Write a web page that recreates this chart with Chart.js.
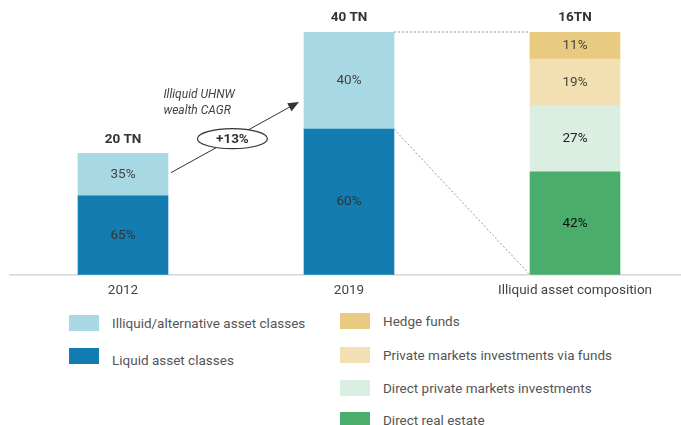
<!doctype html>
<html lang="en">
<head>
    <meta charset="utf-8">
    <title>Illiquid UHNW wealth</title>
    <style>
        body {
            margin: 0;
            background: #fff;
            overflow: hidden;
            font-family: Roboto, sans-serif;
        }
        #container {
            position: relative;
            width: 688px;
            height: 301px;
        }
        #legend {
            position: absolute;
            left: 0;
            top: 0;
        }
        .box {
            position: absolute;
            width: 30px;
            height: 16px;
        }
        .txt {
            position: absolute;
            white-space: nowrap;
            font-size: 13.5px;
            line-height: 16px;
            color: #555;
        }
    </style>
</head>
<body>
    <div id="container">
        <canvas id="myChart"></canvas>
    </div>
    <div id="legend"></div>

    <script src="https://cdn.jsdelivr.net/npm/chart.js@4.4.0/dist/chart.umd.min.js"></script>
    <script>
        // data
        const categories = ['2012', '2019', 'Illiquid asset composition'];
        const totalsTN = [20, 40];
        const liquidShare = [65, 60];
        const illiquidShare = [35, 40];
        const compositionLabels = ['Direct real estate', 'Direct private markets investments', 'Private markets investments via funds', 'Hedge funds'];
        const compositionShare = [42, 27, 19, 11];
        const totalLabels = ['20 TN', '40 TN', '16TN'];
        const cagrLabel = '+13%';
        const cagrNote = ['Illiquid UHNW', 'wealth CAGR'];

        const compositionColors = ['#4aad6c', '#daeee2', '#f3e0b2', '#e8ca80'];
        const compositionText = ['#111', '#222', '#444', '#444'];

        function inTN(shares) {
            return shares.map((s, i) => totalsTN[i] * s / 100).concat([null]);
        }

        let datasets = [
            { label: 'Liquid asset classes', data: inTN(liquidShare), pct: liquidShare, backgroundColor: '#137db2', textColor: '#333', yAxisID: 'y', group: 0 },
            { label: 'Illiquid/alternative asset classes', data: inTN(illiquidShare), pct: illiquidShare, backgroundColor: '#a8d8e3', textColor: '#444', yAxisID: 'y', group: 0 }
        ];
        compositionLabels.forEach((label, i) => {
            datasets.push({
                label: label,
                data: [null, null, compositionShare[i]],
                pct: [null, null, compositionShare[i]],
                backgroundColor: compositionColors[i],
                textColor: compositionText[i],
                yAxisID: 'y2',
                group: 1
            });
        });

        // percentage inside each segment, total on top of each bar
        const barLabels = {
            id: 'barLabels',
            afterDatasetsDraw(chart) {
                const ctx = chart.ctx;
                ctx.save();
                ctx.textAlign = 'center';
                ctx.textBaseline = 'middle';
                ctx.font = '13.5px Roboto';
                let tops = [];
                chart.data.datasets.forEach((ds, di) => {
                    chart.getDatasetMeta(di).data.forEach((el, i) => {
                        if (ds.data[i] == null) return;
                        ctx.fillStyle = ds.textColor;
                        ctx.fillText(ds.pct[i] + '%', el.x, (el.y + el.base) / 2);
                        if (tops[i] === undefined || el.y < tops[i].y) tops[i] = el;
                    });
                });
                ctx.font = 'bold 13.5px Roboto';
                ctx.fillStyle = '#333';
                tops.forEach((el, i) => {
                    ctx.fillText(totalLabels[i], el.x, el.y - 14);
                });
                ctx.restore();
            }
        };

        // CAGR arrow and dashed connectors
        const annotations = {
            id: 'annotations',
            afterDatasetsDraw(chart) {
                const ctx = chart.ctx;
                const ill = chart.getDatasetMeta(1).data;
                const a = ill[0], b = ill[1];
                const hedge = chart.getDatasetMeta(chart.data.datasets.length - 1).data[2];
                const estate = chart.getDatasetMeta(2).data[2];
                ctx.save();

                // dashed lines from 2019 illiquid part to composition bar
                ctx.strokeStyle = '#999';
                ctx.lineWidth = 1;
                ctx.setLineDash([2, 2]);
                ctx.beginPath();
                ctx.moveTo(b.x + b.width / 2, b.y);
                ctx.lineTo(hedge.x - hedge.width / 2, hedge.y);
                ctx.moveTo(b.x + b.width / 2, b.base);
                ctx.lineTo(estate.x - estate.width / 2, estate.base);
                ctx.stroke();
                ctx.setLineDash([]);

                // arrow
                const sx = a.x + a.width / 2 + 3, sy = (a.y + a.base) / 2 - 2;
                const ex = b.x - b.width / 2 - 5, ey = b.y + (b.base - b.y) * 0.72;
                const ang = Math.atan2(ey - sy, ex - sx);
                ctx.strokeStyle = '#333';
                ctx.fillStyle = '#333';
                ctx.beginPath();
                ctx.moveTo(sx, sy);
                ctx.lineTo(ex - 9 * Math.cos(ang), ey - 9 * Math.sin(ang));
                ctx.stroke();
                ctx.beginPath();
                ctx.moveTo(ex, ey);
                ctx.lineTo(ex - 11 * Math.cos(ang) + 4.5 * Math.sin(ang), ey - 11 * Math.sin(ang) - 4.5 * Math.cos(ang));
                ctx.lineTo(ex - 11 * Math.cos(ang) - 4.5 * Math.sin(ang), ey - 11 * Math.sin(ang) + 4.5 * Math.cos(ang));
                ctx.closePath();
                ctx.fill();

                // ellipse with CAGR
                const cx = sx + (ex - sx) * 0.48, cy = sy + (ey - sy) * 0.48;
                ctx.fillStyle = '#fff';
                ctx.lineWidth = 1.2;
                ctx.beginPath();
                ctx.ellipse(cx, cy, 35, 10, 0, 0, Math.PI * 2);
                ctx.fill();
                ctx.stroke();
                ctx.fillStyle = '#333';
                ctx.textAlign = 'center';
                ctx.textBaseline = 'middle';
                ctx.font = 'bold 13.5px Roboto';
                ctx.fillText(cagrLabel, cx, cy + 0.5);

                ctx.font = 'italic 12px Roboto';
                ctx.fillStyle = '#444';
                ctx.textAlign = 'left';
                cagrNote.forEach((line, i) => {
                    ctx.fillText(line, cx - 69, cy - 44 + i * 16);
                });
                ctx.restore();
            }
        };

        let ctx = document.getElementById('myChart').getContext('2d');
        let myChart = new Chart(ctx, {
            type: 'bar',
            data: { labels: categories, datasets: datasets },
            options: {
                responsive: true,
                maintainAspectRatio: false,
                animation: false,
                layout: { padding: { left: 10, top: 32, right: 0, bottom: 2 } },
                plugins: {
                    legend: { display: false },
                    tooltip: { enabled: false }
                },
                datasets: { bar: { barThickness: 90 } },
                scales: {
                    x: {
                        stacked: true,
                        grid: { display: false },
                        border: { display: true, color: '#d6d6d6', width: 1.5 },
                        ticks: { color: '#444', padding: 0, font: { family: 'Roboto', size: 13.5 } }
                    },
                    y: { stacked: true, display: false, min: 0, max: 40 },
                    y2: { stacked: true, display: false, min: 0, max: 99 }
                }
            },
            plugins: [barLabels, annotations]
        });

        // legend in two columns, built from the datasets
        const legend = document.getElementById('legend');
        const columns = [
            { x: 69, tops: [315, 348], dy: [0, 4], items: datasets.filter(d => d.group === 0).reverse() },
            { x: 340, tops: [313, 347, 380, 412], dy: [0, 0, 0, 0], items: datasets.filter(d => d.group === 1).reverse() }
        ];
        columns.forEach(col => {
            col.items.forEach((ds, i) => {
                let box = document.createElement('div');
                box.className = 'box';
                box.style.left = col.x + 'px';
                box.style.top = col.tops[i] + 'px';
                box.style.background = ds.backgroundColor;
                legend.append(box);
                let txt = document.createElement('div');
                txt.className = 'txt';
                txt.style.left = (col.x + 43) + 'px';
                txt.style.top = (col.tops[i] + col.dy[i]) + 'px';
                txt.innerText = ds.label;
                legend.append(txt);
            });
        });
    </script>
</body>
</html>
